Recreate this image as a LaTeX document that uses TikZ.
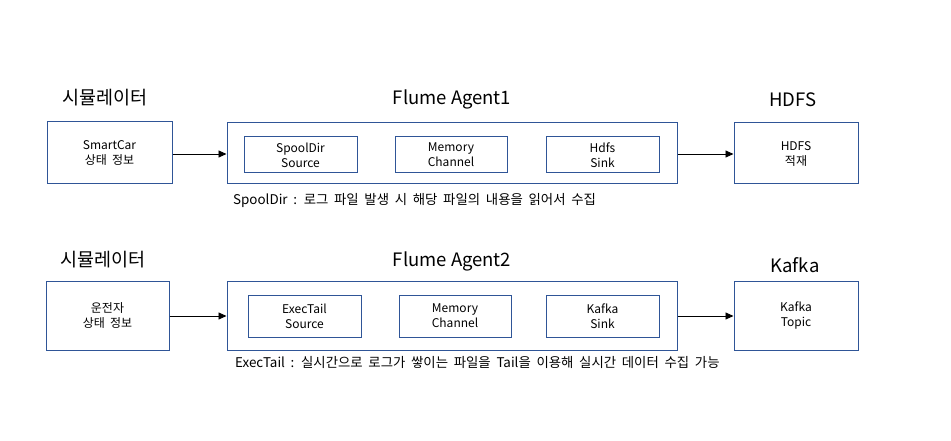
\documentclass[tikz,border=0pt]{standalone}
\usepackage{fontspec}
\setmainfont{Noto Sans CJK KR}
\newfontfamily\widefont{Noto Sans CJK KR}[WordSpace=2.3]
\newfontfamily\notefont{Noto Sans CJK KR}[WordSpace=1.9]
\usetikzlibrary{arrows.meta}
\definecolor{boxblue}{HTML}{2F5597}
\tikzset{
  bx/.style={draw=boxblue, line width=1pt, fill=white, inner sep=0pt, font=\widefont\fontsize{12}{15}\selectfont, align=center},
  ttl/.style={inner sep=0pt, font=\fontsize{18.5}{22}\selectfont},
  note/.style={inner sep=0pt, anchor=west, font=\notefont\fontsize{13.4}{15}\selectfont},
  arr/.style={draw=black, line width=0.9pt, -{Triangle[length=8pt,width=7pt]}}
}
\begin{document}
\begin{tikzpicture}[x=1pt,y=-1pt]
\useasboundingbox[fill=white] (0,0) rectangle (951,441);
% row 1
\node[bx, minimum width=125pt, minimum height=62pt] (sim1) at (109.5,153) {SmartCar\\상태 정보};
\node[bx, minimum width=450pt, minimum height=61pt] (ag1) at (452,153.5) {};
\node[bx, minimum width=113pt, minimum height=36pt] (src1) at (300.5,155) {SpoolDir\\Source};
\node[bx, minimum width=112pt, minimum height=36pt] (ch1) at (451,155) {Memory\\Channel};
\node[bx, minimum width=113pt, minimum height=36pt] (snk1) at (602.5,155) {Hdfs\\Sink};
\node[bx, minimum width=124pt, minimum height=61pt] (hdfs) at (796,153.5) {HDFS\\적재};
\node[ttl] (t1a) at (105,98) {시뮬레이터};
\node[ttl] (t1b) at (452,99) {Flume Agent1};
\node[ttl] (t1c) at (793,100) {HDFS};
\node[note] (n1) at (233,200) {SpoolDir : 로그 파일 발생 시 해당 파일의 내용을 읽어서 수집};
\draw[arr] (sim1.east |- 0,154) -- (ag1.west |- 0,154);
\draw[arr] (ag1.east |- 0,154) -- (hdfs.west |- 0,154);
% row 2
\node[bx, minimum width=123pt, minimum height=69pt] (sim2) at (107.5,315.5) {운전자\\상태 정보};
\node[bx, minimum width=450pt, minimum height=69pt] (ag2) at (452,315.5) {};
\node[bx, minimum width=113pt, minimum height=42pt] (src2) at (304.5,316) {ExecTail\\Source};
\node[bx, minimum width=112pt, minimum height=42pt] (ch2) at (455,316) {Memory\\Channel};
\node[bx, minimum width=113pt, minimum height=42pt] (snk2) at (602.5,316) {Kafka\\Sink};
\node[bx, minimum width=124pt, minimum height=69pt] (kafka) at (796,315.5) {Kafka\\Topic};
\node[ttl] (t2a) at (103,260) {시뮬레이터};
\node[ttl] (t2b) at (452,261) {Flume Agent2};
\node[ttl] (t2c) at (795,265) {Kafka};
\node[note] (n2) at (235,362) {ExecTail : 실시간으로 로그가 쌓이는 파일을 Tail을 이용해 실시간 데이터 수집 가능};
\draw[arr] (sim2.east |- 0,316) -- (ag2.west |- 0,316);
\draw[arr] (ag2.east |- 0,316) -- (kafka.west |- 0,316);
\end{tikzpicture}
\end{document}
